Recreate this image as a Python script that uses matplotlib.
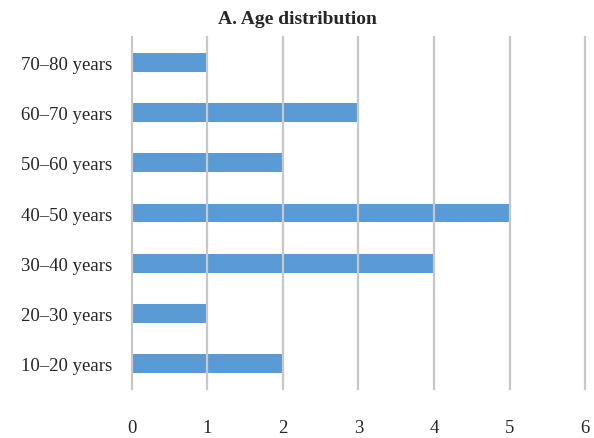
import matplotlib
matplotlib.use("Agg")
import matplotlib.pyplot as plt

categories = ["10–20 years", "20–30 years", "30–40 years", "40–50 years",
              "50–60 years", "60–70 years", "70–80 years"]
counts = [2, 1, 4, 5, 2, 3, 1]

plt.rcParams['font.family'] = ['Liberation Serif', 'DejaVu Serif']

fig = plt.figure(figsize=(5.94, 4.39), dpi=100)
ax = fig.add_axes([0.222, 0.112, 0.763, 0.801])

ax.barh(range(len(categories)), counts, height=0.37, color='#5B9BD5', zorder=1)

ax.set_xlim(0, 6)
ax.set_ylim(-0.5, len(categories) - 0.5)
ax.set_xticks(range(0, 7))
ax.set_yticks(range(len(categories)))
ax.set_yticklabels(categories)
ax.tick_params(axis='both', length=0, labelsize=13.5, colors='#262626')
ax.tick_params(axis='x', pad=22)
ax.tick_params(axis='y', pad=14)

ax.grid(axis='x', color='#C8C8C8', linewidth=1.6, zorder=3)
ax.set_axisbelow(False)
for gl in ax.get_xgridlines():
    gl.set_clip_on(False)
for s in ax.spines.values():
    s.set_visible(False)

fig.suptitle('A. Age distribution', fontsize=14, fontweight='bold', color='#262626', y=0.975)

fig.savefig('out.png', dpi=100)
